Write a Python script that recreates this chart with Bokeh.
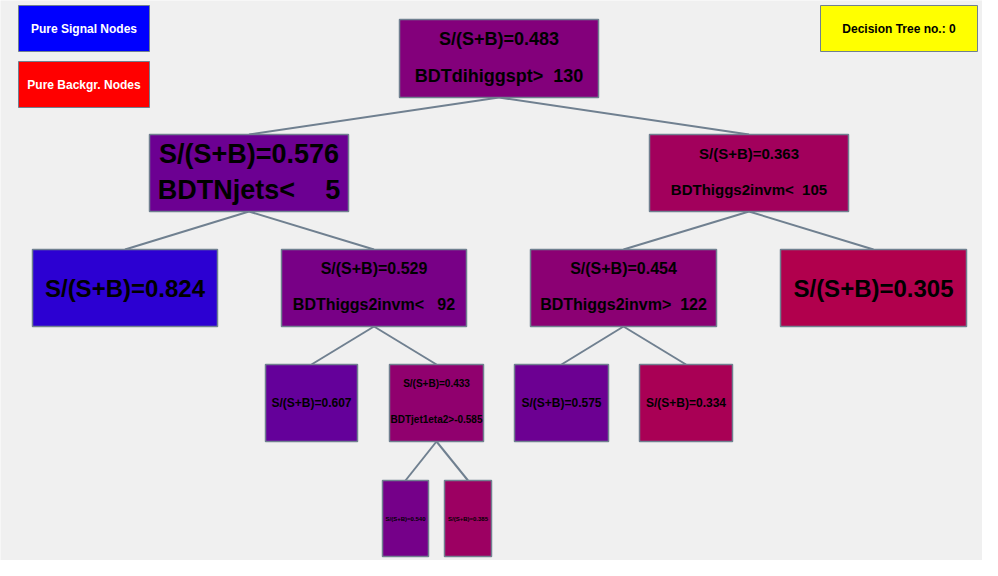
from bokeh.plotting import figure
from bokeh.models import ColumnDataSource, Range1d
from bokeh.core.properties import value
from bokeh.embed import file_html
from bokeh.resources import INLINE

# tree nodes (purity, cut text, parent index)
purity = [0.483, 0.576, 0.363, 0.824, 0.529, 0.454, 0.305, 0.607, 0.433, 0.575, 0.334, 0.540, 0.385]
cuts = ["BDTdihiggspt>  130", "BDTNjets<    5", "BDThiggs2invm<  105", "", "BDThiggs2invm<   92",
        "BDThiggs2invm>  122", "", "", "BDTjet1eta2>-0.585", "", "", "", ""]
parent = [-1, 0, 0, 1, 1, 2, 2, 4, 4, 5, 5, 8, 8]

# layout (pixel coords)
cx = [498.5, 248.5, 748.5, 124.5, 373.5, 623, 873, 311, 436, 561, 685.5, 405, 467.5]
top = [19, 134, 134, 249, 249, 249, 249, 364, 364, 364, 364, 480, 480]
bw = [199, 199, 199, 185, 185, 186, 186, 92, 94, 94, 93, 46, 47]
bh = [78, 77, 77, 77, 77, 77, 77, 77, 77, 77, 77, 76, 76]
fs = [18, 27, 15, 24, 16, 16, 24, 12, 10, 12, 12, 6, 6]

def col(p):
    return "#%02x%02x%02x" % (int(255 * (1 - p)), 0, int(255 * p))

def nb(s):
    return s.replace(" ", "\u00a0")

p = figure(width=982, height=560, output_backend="svg", toolbar_location=None,
           x_range=Range1d(0, 982), y_range=Range1d(560, 0))
p.axis.visible = False
p.grid.visible = False
p.outline_line_color = None
p.min_border = 0
p.background_fill_color = "#f0f0f0"
p.border_fill_color = "#f0f0f0"

for i, pa in enumerate(parent):
    if pa >= 0:
        p.line([cx[pa], cx[i]], [top[pa] + bh[pa], top[i]], line_color="#708090", line_width=2)

cy = [t + h / 2 for t, h in zip(top, bh)]
p.rect(cx, cy, bw, bh, fill_color=[col(v) for v in purity], line_color="#708090", line_width=1.5)

labels = ["S/(S+B)=%.3f" % v for v in purity]
ty1 = [t + h * (0.25 if c else 0.5) for t, h, c in zip(top, bh, cuts)]
src = ColumnDataSource(dict(x=cx, y=ty1, t=labels, fs=["%dpx" % f for f in fs]))
p.text("x", "y", text="t", source=src, text_font_size="fs", text_align="center",
       text_baseline="middle", text_font=value("Liberation Sans"), text_font_style="bold")
idx = [i for i, c in enumerate(cuts) if c]
src2 = ColumnDataSource(dict(x=[cx[i] for i in idx], y=[top[i] + bh[i] * 0.72 for i in idx],
                             t=[nb(cuts[i]) for i in idx], fs=["%dpx" % fs[i] for i in idx]))
p.text("x", "y", text="t", source=src2, text_font_size="fs", text_align="center",
       text_baseline="middle", text_font=value("Liberation Sans"), text_font_style="bold")

# legend boxes
lx = [83.5, 83.5, 898.5]
ly = [28, 84, 28]
lw = [131, 131, 157]
lc = ["#0000ff", "#ff0000", "#ffff00"]
lt = ["Pure Signal Nodes", "Pure Backgr. Nodes", "Decision Tree no.: 0"]
ltc = ["white", "white", "black"]
p.rect(lx, ly, lw, 46, fill_color=lc, line_color="#708090")
p.text(lx, ly, text=lt, text_color=ltc, text_font_size="12px", text_align="center",
       text_baseline="middle", text_font=value("Liberation Sans"), text_font_style="bold")

open("out.html", "w").write(file_html(p, INLINE))
